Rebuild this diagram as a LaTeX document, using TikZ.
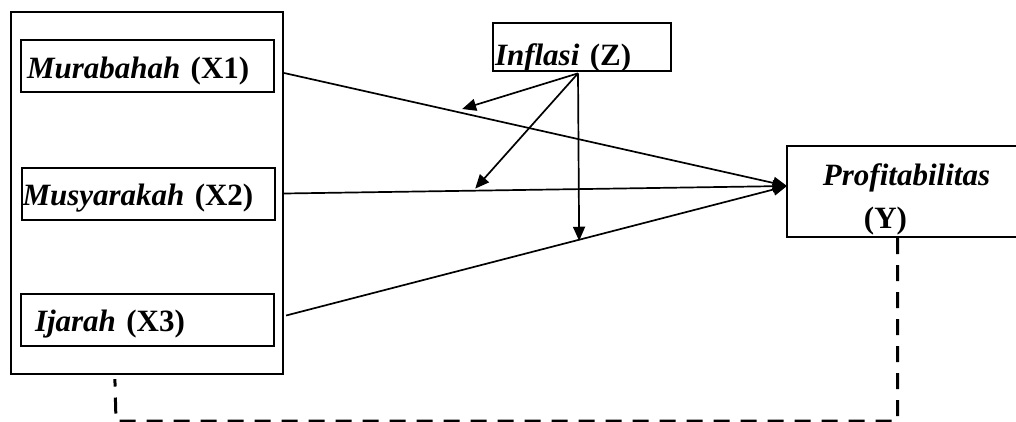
\documentclass[tikz,border=0pt]{standalone}
\usepackage{fontspec}
\setmainfont{Liberation Serif}
\usepackage{tikz}
\usetikzlibrary{calc,arrows.meta,positioning}
\tikzset{
  ar/.style={-{Triangle[length=14pt,width=12pt]},line width=1.7pt,black},
  varbox/.style={draw,line width=2pt,inner xsep=0pt,align=left,minimum height=52pt,
    text width=253pt,text height=30pt,text depth=6pt,font=\fontsize{31}{36}\selectfont\bfseries},
  dashline/.style={line width=3pt,dash pattern=on 16pt off 11pt}
}
\begin{document}
\begin{tikzpicture}[x=1pt,y=-1pt]
\useasboundingbox (0,0) rectangle (1016,421);
% independent variables
\node[draw,line width=2.2pt,minimum width=272pt,minimum height=362pt] (frame) at (147,193) {};
\node[varbox] (X1) at (147.5,66) {\hspace*{6pt}\textit{Murabahah} (X1)};
\node[varbox] (X2) at (148,193.5) {\hspace*{1pt}\textit{Musyarakah} (X2)};
\node[varbox] (X3) at (147.5,319.5) {\hspace*{14pt}\textit{Ijarah} (X3)};
% moderator and dependent
\node[draw,line width=2pt,inner xsep=0pt,minimum width=178pt,minimum height=42pt,text width=178pt,
  align=left,text height=39pt,text depth=3pt,font=\fontsize{31}{36}\selectfont\bfseries] (Z) at (582,47) {\hspace*{2pt}\textit{Inflasi} (Z)};
\node[draw,line width=2pt,minimum width=243pt,minimum height=91pt] (Y) at (908.5,191.5) {};
\node[align=center,font=\fontsize{31}{43}\selectfont\bfseries] (Ytext) at ($(Y.center)+(-2,8)$) {\textit{Profitabilitas}\\(Y)\hspace*{42pt}};
\coordinate (tip) at (787,186);
\coordinate (zsrc) at ($(Z.south)+(-4,1)$);
% direct effects
\draw[ar] (X1 -| frame.east) ++(0,7) coordinate (s1) -- (tip);
\draw[ar] (X2 -| frame.east) coordinate (s2) -- (tip);
\draw[ar] (X3 -| frame.east) ++(2,-4) coordinate (s3) -- (tip);
% moderating effects
\draw[ar] (zsrc) -- ($(s1)!0.354!(tip)+(0,-4)$);
\draw[ar] (zsrc) -- ($(s2)!0.38!(tip)+(0,-2)$);
\draw[ar] (zsrc) -- ($(s3)!0.585!(tip)+(0,1)$);
\draw[dashline] ([xshift=-11pt]Y.south) |- (116,421) -- ($(frame.south west)+(105,4)$);
\end{tikzpicture}
\end{document}
